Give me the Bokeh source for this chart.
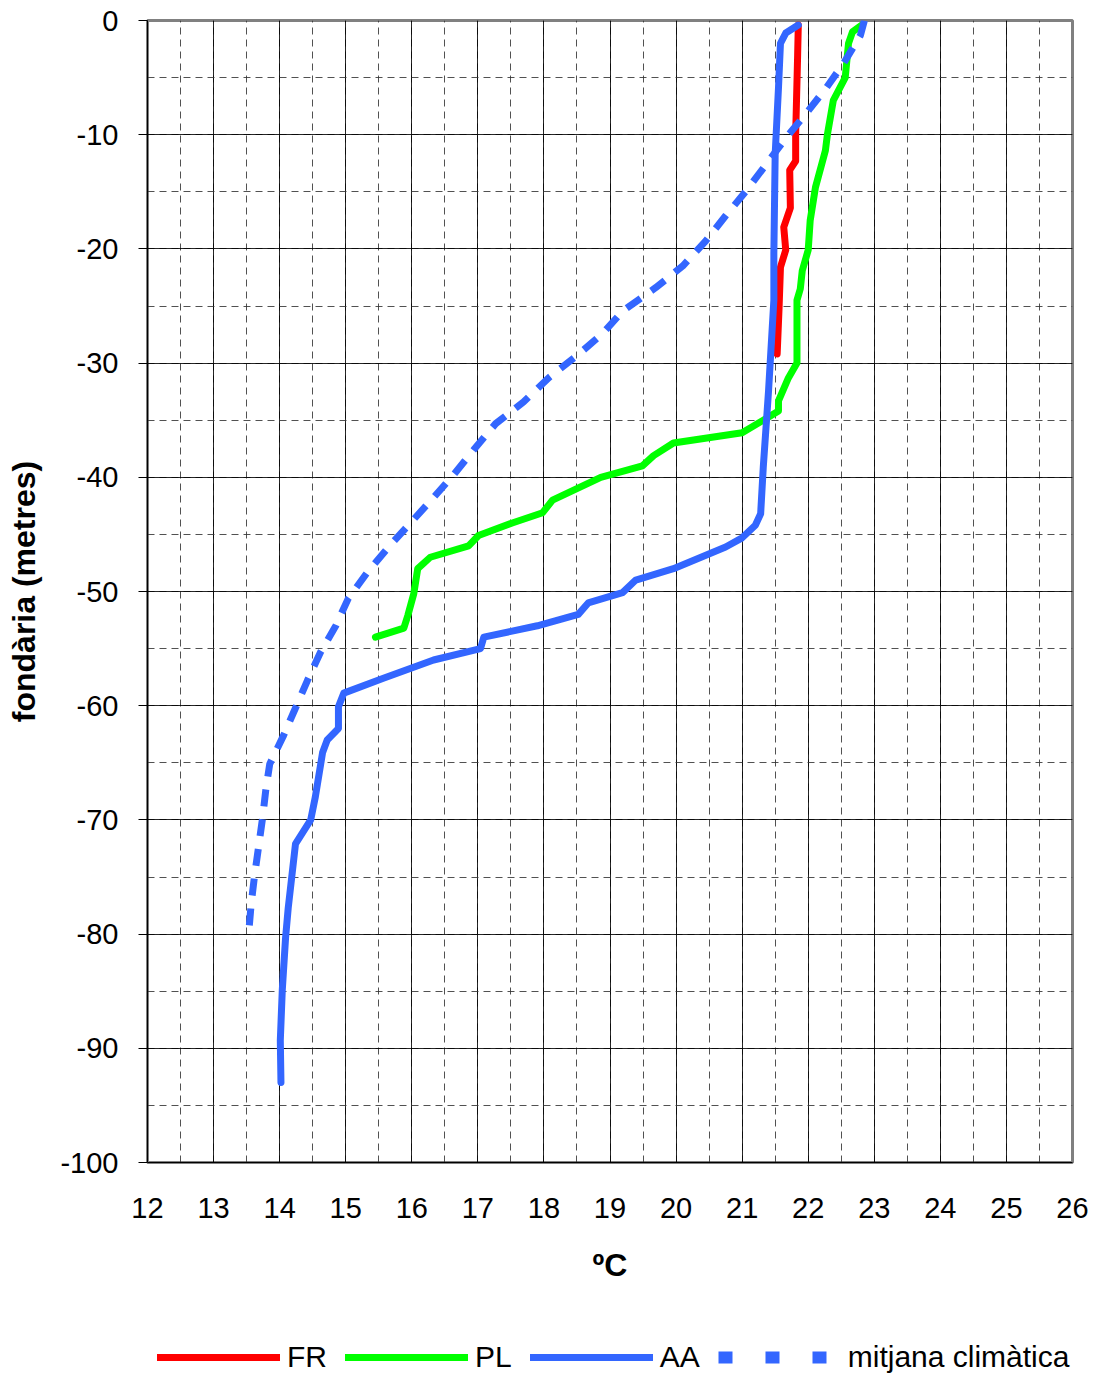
from bokeh.plotting import figure
from bokeh.layouts import column
from bokeh.models import (Range1d, SingleIntervalTicker, Legend, LegendItem,
                          PrintfTickFormatter)
from bokeh.embed import file_html
from bokeh.resources import INLINE

# ---- data (temperature ºC, depth m) ----
fr_temp = [21.85, 21.84, 21.81, 21.81, 21.72, 21.73, 21.63, 21.66, 21.58, 21.56, 21.53]
fr_depth = [-0.4, -3, -10, -12.3, -13.1, -16.4, -18.1, -20.1, -21.6, -25, -29.2]

pl_temp = [22.81, 22.67, 22.61, 22.56, 22.38, 22.29, 22.26, 22.11, 22.03, 22.0, 21.91, 21.88,
           21.83, 21.83, 21.7, 21.55, 21.55, 21.32, 21.0, 19.96, 19.66, 19.49, 18.86, 18.13,
           17.98, 17.52, 17.01, 16.86, 16.28, 16.09, 16.03, 15.94, 15.88, 15.45]
pl_depth = [-0.4, -1, -2, -5, -7, -10, -11.4, -14.6, -17.5, -20.1, -21.9, -23.5,
            -24.5, -30, -31.3, -33.3, -34.2, -35, -36.1, -37, -38.1, -39, -40, -42,
            -43.1, -44, -45.1, -46, -47, -48, -50.2, -52.1, -53.2, -54]

aa_temp = [21.85, 21.66, 21.58, 21.55, 21.5, 21.48, 21.48, 21.4, 21.32, 21.28, 21.2, 21.0,
           20.75, 19.96, 19.39, 19.19, 18.67, 18.52, 17.9, 17.09, 17.04, 16.33, 15.57,
           14.97, 14.89, 14.89, 14.72, 14.65, 14.54, 14.47, 14.24, 14.13, 14.09, 14.04,
           14.01, 14.02]
aa_depth = [-0.4, -1.1, -2, -5.9, -11.7, -20.4, -24.5, -32.4, -39.1, -43.2, -44.2, -45.3,
            -46.1, -48, -49, -50.1, -51, -52, -53, -54, -55, -56, -57.6,
            -58.9, -60.1, -62, -63, -64.1, -68, -70, -72.1, -77.7, -80.3, -84.9,
            -89.3, -93]

clim_temp = [22.85, 22.79, 22.53, 22.26, 21.96, 21.66, 21.35, 21.05, 20.75, 20.45, 20.1,
             19.69, 19.2, 18.89, 18.51, 18.07, 17.69, 17.27, 16.95, 16.63, 16.31, 15.98,
             15.65, 15.33, 15.04, 14.85, 14.62, 14.42, 14.24, 14.06, 13.85, 13.79, 13.74,
             13.68, 13.62, 13.57, 13.53]
clim_depth = [0, -1.3, -3.8, -6, -8.2, -10.3, -12.7, -15, -17.1, -19.3, -21.5,
              -23.4, -25.4, -27.4, -29.3, -31.3, -33.4, -35.3, -37.5, -39.8, -41.9, -44,
              -46.1, -48.3, -50.6, -53, -55.3, -57.8, -60.2, -62.6, -65.1, -67.4, -69.9,
              -72.4, -74.9, -77.3, -80]

series_labels = ["FR", "PL", "AA", "mitjana climàtica"]
series_colors = ["#FF0000", "#00FF00", "#3366FF", "#3366FF"]
x_label = "ºC"
y_label = "fondària (metres)"

FONT = "Liberation Sans"
LW = 7
CLIM_DASH = "17 13"

W = 1090
p = figure(width=W, height=1285, output_backend="svg", toolbar_location=None,
           x_range=Range1d(12, 26), y_range=Range1d(-100, 0),
           min_border_left=147, min_border_right=W - 147 - 925, min_border_top=20,
           min_border_bottom=123)
p.background_fill_color = "white"
p.border_fill_color = "white"
p.outline_line_color = "#808080"
p.outline_line_width = 3

p.xaxis.ticker = SingleIntervalTicker(interval=1, num_minor_ticks=2)
p.yaxis.ticker = SingleIntervalTicker(interval=10, num_minor_ticks=2)
p.xaxis.formatter = PrintfTickFormatter(format="%d")
p.yaxis.formatter = PrintfTickFormatter(format="%d")

for ax in (p.xaxis, p.yaxis):
    ax.axis_line_color = "black"
    ax.axis_line_width = 1
    ax.major_label_text_font = FONT
    ax.major_label_text_font_size = "29px"
    ax.major_label_text_color = "black"
    ax.axis_label_text_font = FONT
    ax.axis_label_text_font_size = "32px"
    ax.axis_label_text_font_style = "bold"
    ax.axis_label_text_color = "black"
    ax.minor_tick_in = 0
    ax.minor_tick_out = 0
    ax.major_tick_in = 0

p.xaxis.major_tick_out = 0
p.xaxis.major_label_standoff = 35
p.xaxis.axis_label = x_label
p.xaxis.axis_label_standoff = 26

p.yaxis.major_tick_out = 9
p.yaxis.major_tick_line_color = "black"
p.yaxis.major_label_standoff = 20
p.yaxis.axis_label = y_label
p.yaxis.axis_label_standoff = 15

for g in (p.xgrid, p.ygrid):
    g.grid_line_color = "black"
    g.grid_line_width = 1
    g.grid_line_alpha = 0.85
    g.minor_grid_line_color = "#333333"
    g.minor_grid_line_width = 1
    g.minor_grid_line_dash = "7 5"
    g.minor_grid_line_alpha = 0.85

p.line(fr_temp, fr_depth, line_color=series_colors[0], line_width=LW,
       line_join="round", line_cap="round")
p.line(pl_temp, pl_depth, line_color=series_colors[1], line_width=LW,
       line_join="round", line_cap="round")
p.line(aa_temp, aa_depth, line_color=series_colors[2], line_width=LW,
       line_join="round", line_cap="round")
p.line(clim_temp, clim_depth, line_color=series_colors[3], line_width=LW,
       line_dash=CLIM_DASH)

# ---- legend strip below the chart (its frame is aligned with the chart's) ----
lg = figure(width=W, height=91, output_backend="svg", toolbar_location=None,
            x_range=Range1d(0, 1), y_range=Range1d(0, 1),
            min_border_left=0, min_border_right=0,
            min_border_top=0, min_border_bottom=0)
lg.axis.visible = False
lg.grid.visible = False
lg.outline_line_color = None
lg.background_fill_color = None
lg.border_fill_color = None

items = []
for i, lab in enumerate(series_labels):
    kw = dict(line_color=series_colors[i], line_width=LW)
    if i == 3:
        kw["line_dash"] = "14 33"
        kw["line_width"] = 12
    else:
        kw["line_cap"] = "round"
    # sample renderer kept outside the visible range: only its legend glyph shows
    r = lg.line([-5, -4], [-5, -5], **kw)
    items.append(LegendItem(label=lab, renderers=[r]))

legend = Legend(items=items, orientation="horizontal", location=(10, 2))
legend.label_text_font = FONT
legend.label_text_font_size = "30px"
legend.label_text_color = "black"
legend.glyph_width = 123
legend.glyph_height = 30
legend.label_standoff = 7
legend.spacing = 18
legend.padding = 0
legend.margin = 0
legend.border_line_alpha = 0
legend.background_fill_alpha = 0
lg.add_layout(legend, "center")

layout = column(p, lg, spacing=0)
open("out.html", "w").write(file_html(layout, INLINE))
